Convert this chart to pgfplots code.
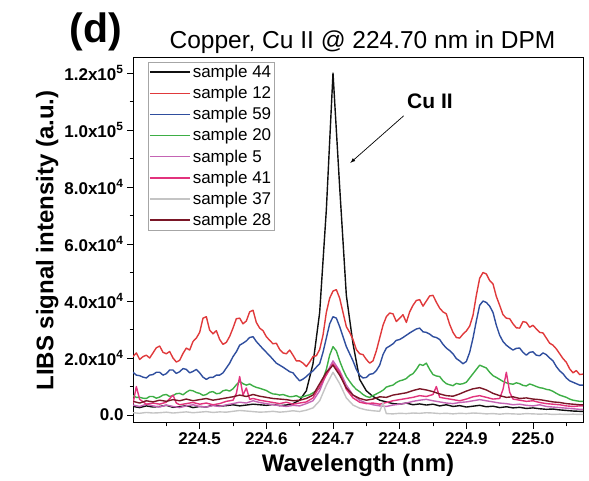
\documentclass[border=0pt]{standalone}
\usepackage{pgfplots}
\pgfplotsset{compat=1.18}
\usepackage{fontspec}
\setmainfont{Liberation Sans}

\definecolor{sampleA}{HTML}{101010}
\definecolor{sampleB}{HTML}{E0393B}
\definecolor{sampleC}{HTML}{2F4E9E}
\definecolor{sampleD}{HTML}{3DAE45}
\definecolor{sampleE}{HTML}{C464B4}
\definecolor{sampleF}{HTML}{E2337D}
\definecolor{sampleG}{HTML}{C4C4C4}
\definecolor{sampleH}{HTML}{7A1626}

\begin{document}
\begin{tikzpicture}[x=1pt,y=1pt]
\useasboundingbox (0,0) rectangle (589,481);
\node[font=\bfseries\fontsize{41}{41}\selectfont] at (96,449) {(d)};
\begin{axis}[
  at={(133pt,58pt)}, anchor=south west,
  scale only axis, width=450pt, height=365pt,
  xmin=224.40, xmax=225.075, ymin=-2800, ymax=125300,
  axis line style={line width=1pt},
  tick align=outside, xtick pos=bottom, ytick pos=left,
  major tick length=6pt, minor tick length=3.5pt,
  tick style={line width=0.9pt, black},
  xtick={224.5,224.6,224.7,224.8,224.9,225.0},
  xticklabels={224.5,224.6,224.7,224.8,224.9,225.0},
  minor xtick={224.45,224.55,224.65,224.75,224.85,224.95,225.05},
  ytick={0,20000,40000,60000,80000,100000,120000},
  yticklabels={0.0,2.0x10\textsuperscript{4},4.0x10\textsuperscript{4},6.0x10\textsuperscript{4},8.0x10\textsuperscript{4},1.0x10\textsuperscript{5},1.2x10\textsuperscript{5}},
  minor ytick={10000,30000,50000,70000,90000,110000},
  ticklabel style={font=\bfseries\fontsize{17}{17}\selectfont},
  scaled ticks=false,
  title={Copper, Cu II @ 224.70 nm in DPM},
  title style={font=\fontsize{24.5}{24.5}\selectfont, at={(0.51,1)}, anchor=base, yshift=3pt},
  xlabel={Wavelength (nm)},
  ylabel={LIBS signal intensity (a.u.)},
  label style={font=\bfseries\fontsize{24}{24}\selectfont},
  xlabel style={yshift=-3pt},
  ylabel style={yshift=-1pt},
  every axis plot/.append style={line width=1.4pt, line join=round},
  legend cell align=left,
  legend style={at={(rel axis cs:0.033,0.989)}, anchor=north west,
    draw=gray!70, line width=0.6pt, font=\fontsize{17}{17}\selectfont,
    inner sep=1pt, row sep=3.3pt},
  legend image code/.code={\draw[#1, line width=1.6pt] (0pt,0pt) -- (40pt,0pt);},
]
% sample 44
\addplot[sampleA] coordinates {
(224.40,3000)(224.41,2600)(224.42,3200)(224.43,2800)(224.44,3000)(224.45,3400)(224.46,2700)(224.47,2900)(224.48,3300)(224.49,2600)
(224.50,3000)(224.51,2800)(224.52,3500)(224.53,3100)(224.54,3300)(224.55,3600)(224.56,3200)(224.57,3500)(224.58,3800)(224.59,3600)
(224.60,3400)(224.61,3700)(224.62,3300)(224.63,3500)(224.64,4000)(224.65,5200)(224.66,8500)(224.67,18000)(224.68,36000)(224.69,72000)
(224.70,120000)(224.71,80000)(224.72,42000)(224.73,25000)(224.74,12500)(224.75,8500)(224.76,6500)(224.77,5200)(224.78,4600)(224.79,4000)
(224.80,3800)(224.81,4200)(224.82,3600)(224.83,3900)(224.84,3500)(224.85,3800)(224.86,3200)(224.87,3600)(224.88,3000)(224.89,3300)
(224.90,2800)(224.91,3100)(224.92,3400)(224.93,2900)(224.94,3100)(224.95,2600)(224.96,2900)(224.97,2500)(224.98,2700)(224.99,2300)
(225.00,2500)(225.01,2200)(225.02,2000)(225.03,2100)(225.04,1800)(225.05,1600)(225.06,1400)(225.07,1300)(225.08,1300)};
\addlegendentry{sample 44}
% sample 12
\addplot[sampleB] coordinates {
(224.40,20500)(224.405,21800)(224.41,19500)(224.415,20500)(224.42,21000)(224.425,20000)(224.43,21800)(224.435,23600)(224.44,24200)(224.445,22000)
(224.45,21500)(224.455,22300)(224.46,20000)(224.465,18600)(224.47,19200)(224.475,21600)(224.48,23500)(224.485,22800)(224.49,25800)(224.495,27000)
(224.50,29000)(224.505,34000)(224.51,34500)(224.515,29800)(224.52,28500)(224.525,29600)(224.53,26500)(224.535,24800)(224.54,25500)(224.545,27600)
(224.55,30500)(224.555,33800)(224.56,34000)(224.565,32000)(224.57,33000)(224.575,36200)(224.58,36800)(224.585,32500)(224.59,30500)(224.595,29600)
(224.60,27500)(224.605,26200)(224.61,25000)(224.615,25200)(224.62,23000)(224.625,21800)(224.63,21500)(224.635,22800)(224.64,21000)(224.645,19000)
(224.65,19000)(224.655,18200)(224.66,17000)(224.665,18600)(224.67,20500)(224.675,20800)(224.68,23000)(224.685,28000)(224.69,36000)(224.695,41000)
(224.70,43500)(224.705,44000)(224.71,41000)(224.715,36000)(224.72,31000)(224.725,29000)(224.73,26500)(224.735,23000)(224.74,21500)(224.745,21200)
(224.75,19500)(224.755,18200)(224.76,19000)(224.765,22500)(224.77,27000)(224.775,31500)(224.78,34500)(224.785,35800)(224.79,35500)(224.795,32800)
(224.80,34000)(224.805,35200)(224.81,32500)(224.815,36200)(224.82,38500)(224.825,40200)(224.83,40500)(224.835,38200)(224.84,40000)(224.845,41800)
(224.85,42000)(224.855,39600)(224.86,37500)(224.865,36200)(224.87,35500)(224.875,31800)(224.88,29000)(224.885,27200)(224.89,27000)(224.895,28400)
(224.90,29500)(224.905,31200)(224.91,35000)(224.915,42000)(224.92,48000)(224.925,50000)(224.93,49500)(224.935,47200)(224.94,46000)(224.945,41600)
(224.95,38500)(224.955,35200)(224.96,34000)(224.965,33800)(224.97,32000)(224.975,30600)(224.98,30500)(224.985,32800)(224.99,32500)(224.995,30800)
(225.00,31500)(225.005,30200)(225.01,29000)(225.015,28800)(225.02,27000)(225.025,25200)(225.03,24500)(225.035,23200)(225.04,21500)(225.045,19800)
(225.05,18500)(225.055,16200)(225.06,14800)(225.065,15600)(225.07,14200)(225.08,14500)};
\addlegendentry{sample 12}
% sample 59
\addplot[sampleC] coordinates {
(224.40,15000)(224.405,14000)(224.41,13800)(224.415,13300)(224.42,13000)(224.425,14000)(224.43,14200)(224.435,15000)(224.44,15000)(224.445,14000)
(224.45,14500)(224.455,15800)(224.46,15800)(224.465,14600)(224.47,15200)(224.475,16300)(224.48,16000)(224.485,14800)(224.49,15300)(224.495,16000)
(224.50,14800)(224.505,13300)(224.51,12500)(224.515,13200)(224.52,13200)(224.525,14000)(224.53,14000)(224.535,14800)(224.54,16500)(224.545,18200)
(224.55,20500)(224.555,22200)(224.56,24500)(224.565,25200)(224.57,26000)(224.575,27200)(224.58,27500)(224.585,25800)(224.59,24500)(224.595,23200)
(224.60,22000)(224.605,20800)(224.61,19500)(224.615,18200)(224.62,17500)(224.625,16800)(224.63,16000)(224.635,15200)(224.64,14800)(224.645,13300)
(224.65,12000)(224.655,12600)(224.66,13500)(224.665,14600)(224.67,15500)(224.675,16800)(224.68,18000)(224.685,22000)(224.69,27000)(224.695,32000)
(224.70,34500)(224.705,34000)(224.71,31000)(224.715,27500)(224.72,24000)(224.725,21500)(224.73,19000)(224.735,16000)(224.74,14000)(224.745,13000)
(224.75,13200)(224.755,14300)(224.76,14500)(224.765,15600)(224.77,17500)(224.775,21200)(224.78,23500)(224.785,24200)(224.79,25000)(224.795,26200)
(224.80,26500)(224.805,27200)(224.81,28000)(224.815,28800)(224.82,29500)(224.825,30200)(224.83,30500)(224.835,29200)(224.84,29000)(224.845,28400)
(224.85,27500)(224.855,27200)(224.86,26500)(224.865,24800)(224.87,23500)(224.875,22600)(224.88,21500)(224.885,19800)(224.89,19000)(224.895,18000)
(224.90,18800)(224.905,22000)(224.91,27000)(224.915,33000)(224.92,38500)(224.925,40000)(224.93,39500)(224.935,38200)(224.94,36000)(224.945,31500)
(224.95,28000)(224.955,25800)(224.96,24500)(224.965,23600)(224.97,22800)(224.975,23400)(224.98,23500)(224.985,22000)(224.99,21000)(224.995,22000)
(225.00,22200)(225.005,21000)(225.01,20800)(225.015,21800)(225.02,21200)(225.025,20000)(225.03,19000)(225.035,17000)(225.04,15500)(225.045,14500)
(225.05,13000)(225.055,12000)(225.06,11500)(225.065,11000)(225.07,10500)(225.08,10500)};
\addlegendentry{sample 59}
% sample 20
\addplot[sampleD] coordinates {
(224.40,6800)(224.405,6200)(224.41,6200)(224.415,5900)(224.42,5800)(224.425,6500)(224.43,6500)(224.435,5900)(224.44,6300)(224.445,7000)
(224.45,7200)(224.455,6500)(224.46,6800)(224.465,7500)(224.47,7600)(224.475,7100)(224.48,8000)(224.485,8700)(224.49,8500)(224.495,7900)
(224.50,7600)(224.505,6900)(224.51,7200)(224.515,8000)(224.52,8200)(224.525,7500)(224.53,7600)(224.535,8500)(224.54,8800)(224.545,8400)
(224.55,9200)(224.555,10600)(224.56,11800)(224.565,11000)(224.57,10500)(224.575,10900)(224.58,10200)(224.585,9700)(224.59,9400)(224.595,9000)
(224.60,8600)(224.605,7900)(224.61,7400)(224.615,7300)(224.62,7000)(224.625,7200)(224.63,6800)(224.635,6400)(224.64,6500)(224.645,6800)
(224.65,6200)(224.655,6400)(224.66,6800)(224.665,7100)(224.67,7800)(224.675,8500)(224.68,9500)(224.685,12500)(224.69,16000)(224.695,21000)
(224.70,24000)(224.705,22500)(224.71,19000)(224.715,16000)(224.72,13500)(224.725,11800)(224.73,10200)(224.735,9000)(224.74,8200)(224.745,7200)
(224.75,6500)(224.755,6200)(224.76,6800)(224.765,7400)(224.77,8000)(224.775,8700)(224.78,9800)(224.785,10200)(224.79,10500)(224.795,11400)
(224.80,12000)(224.805,12300)(224.81,12800)(224.815,13900)(224.82,14500)(224.825,16000)(224.83,17800)(224.835,17400)(224.84,18200)(224.845,16000)
(224.85,14200)(224.855,13700)(224.86,13500)(224.865,12000)(224.87,11000)(224.875,10600)(224.88,10300)(224.885,11100)(224.89,10800)(224.895,11000)
(224.90,11500)(224.905,13000)(224.91,14500)(224.915,16000)(224.92,17500)(224.925,17000)(224.93,16500)(224.935,15000)(224.94,13800)(224.945,13200)
(224.95,12500)(224.955,11800)(224.96,11300)(224.965,11000)(224.97,10800)(224.975,11300)(224.98,11000)(224.985,10400)(224.99,10200)(224.995,10900)
(225.00,10500)(225.005,10000)(225.01,9600)(225.015,9400)(225.02,9000)(225.025,8800)(225.03,8300)(225.035,7600)(225.04,7000)(225.045,6600)
(225.05,6200)(225.055,5600)(225.06,5200)(225.065,5000)(225.07,4800)(225.08,4800)};
\addlegendentry{sample 20}
% sample 5
\addplot[sampleE] coordinates {
(224.40,3500)(224.41,3000)(224.42,3800)(224.43,3200)(224.44,2800)(224.45,3500)(224.46,3000)(224.47,2600)(224.48,3200)(224.49,3600)
(224.50,3000)(224.51,2800)(224.52,3300)(224.53,3000)(224.54,3600)(224.55,4000)(224.56,4500)(224.57,4200)(224.58,5000)(224.59,4400)
(224.60,4000)(224.61,3600)(224.62,3300)(224.63,3000)(224.64,3400)(224.65,3200)(224.66,4000)(224.67,5000)(224.68,8500)(224.69,14500)
(224.70,19000)(224.71,15500)(224.72,10500)(224.73,7000)(224.74,5200)(224.75,4200)(224.76,3600)(224.77,3200)(224.78,3000)(224.79,3500)
(224.80,3800)(224.81,4200)(224.82,4800)(224.83,5200)(224.84,5500)(224.85,5000)(224.86,4600)(224.87,4200)(224.88,4000)(224.89,4400)
(224.90,4600)(224.91,5000)(224.92,5400)(224.93,5000)(224.94,4600)(224.95,4200)(224.96,4000)(224.97,3600)(224.98,3800)(224.99,3400)
(225.00,3200)(225.01,3600)(225.02,3000)(225.03,2800)(225.04,2600)(225.05,2400)(225.06,2200)(225.07,2000)(225.08,2000)};
\addlegendentry{sample 5}
% sample 41
\addplot[sampleF] coordinates {
(224.40,4000)(224.405,10000)(224.41,5500)(224.42,3800)(224.43,4200)(224.44,3800)(224.45,4500)(224.46,7000)(224.465,4200)(224.47,3600)
(224.48,4000)(224.49,4400)(224.50,3800)(224.51,4200)(224.52,3600)(224.53,4000)(224.54,4800)(224.55,5200)(224.555,7500)(224.56,13500)
(224.565,7000)(224.57,9500)(224.575,5500)(224.58,5800)(224.59,5200)(224.60,4800)(224.61,4400)(224.62,4000)(224.63,4500)(224.64,3800)
(224.65,4200)(224.66,4600)(224.67,6000)(224.68,10000)(224.69,14000)(224.70,18000)(224.71,15000)(224.72,9000)(224.73,6000)(224.74,4500)
(224.75,4000)(224.76,4200)(224.77,3800)(224.78,4400)(224.79,5000)(224.80,5400)(224.81,5800)(224.82,6200)(224.83,6800)(224.84,6500)
(224.85,7200)(224.855,10000)(224.86,6200)(224.87,5800)(224.88,5400)(224.89,5000)(224.90,5600)(224.91,6400)(224.92,6800)(224.93,6200)
(224.94,5600)(224.95,5800)(224.955,9000)(224.96,15000)(224.965,8000)(224.97,5600)(224.98,5200)(224.99,4800)(225.00,5000)(225.01,4400)
(225.02,4000)(225.03,3800)(225.04,3600)(225.05,3200)(225.06,3000)(225.07,3200)(225.08,3200)};
\addlegendentry{sample 41}
% sample 37
\addplot[sampleG] coordinates {
(224.40,800)(224.41,600)(224.42,900)(224.43,700)(224.44,800)(224.45,1000)(224.46,700)(224.47,900)(224.48,1100)(224.49,800)
(224.50,1000)(224.51,1200)(224.52,900)(224.53,1100)(224.54,1000)(224.55,1300)(224.56,1600)(224.57,1400)(224.58,1200)(224.59,1000)
(224.60,1100)(224.61,1300)(224.62,1000)(224.63,1200)(224.64,1500)(224.65,1200)(224.66,1700)(224.67,2500)(224.68,5000)(224.69,10500)
(224.70,15000)(224.71,11000)(224.72,6000)(224.73,3500)(224.74,2400)(224.75,1800)(224.76,1500)(224.77,1300)(224.775,4200)(224.78,500)
(224.79,400)(224.80,600)(224.81,500)(224.82,700)(224.83,600)(224.84,800)(224.85,700)(224.86,500)(224.87,600)(224.88,400)
(224.89,600)(224.90,500)(224.91,700)(224.92,600)(224.93,400)(224.94,500)(224.95,300)(224.96,500)(224.97,400)(224.98,300)
(224.99,500)(225.00,400)(225.01,300)(225.02,400)(225.03,200)(225.04,300)(225.05,200)(225.06,300)(225.07,200)(225.08,200)};
\addlegendentry{sample 37}
% sample 28
\addplot[sampleH] coordinates {
(224.40,4800)(224.41,4200)(224.42,5000)(224.43,4600)(224.44,5200)(224.45,4800)(224.46,5400)(224.47,5000)(224.48,5600)(224.49,5000)
(224.50,5400)(224.51,5800)(224.52,5200)(224.53,5600)(224.54,6000)(224.55,6400)(224.56,7000)(224.57,6500)(224.58,7200)(224.59,6600)
(224.60,6200)(224.61,5800)(224.62,5600)(224.63,5400)(224.64,5000)(224.65,5200)(224.66,5800)(224.67,7000)(224.68,11000)(224.69,15000)
(224.70,17500)(224.71,14000)(224.72,9500)(224.73,7000)(224.74,5800)(224.75,5200)(224.76,5600)(224.77,6400)(224.78,6200)(224.79,7000)
(224.80,7400)(224.81,7800)(224.82,8600)(224.83,9200)(224.84,8800)(224.85,8200)(224.86,7400)(224.87,6800)(224.88,6600)(224.89,7400)
(224.90,8400)(224.91,9200)(224.92,9600)(224.93,8800)(224.94,7600)(224.95,6800)(224.96,6200)(224.97,6400)(224.98,5800)(224.99,6000)
(225.00,5600)(225.01,5400)(225.02,5000)(225.03,4600)(225.04,4400)(225.05,4000)(225.06,3800)(225.07,3600)(225.08,3600)};
\addlegendentry{sample 28}
% arrow pointing to the Cu II line
\draw[-latex, line width=0.7pt] (axis cs:224.806,105000) -- (axis cs:224.726,88500);
\node[font=\bfseries\fontsize{21}{21}\selectfont, anchor=west] at (axis cs:224.806,110000) {Cu II};
\end{axis}
\end{tikzpicture}
\end{document}
